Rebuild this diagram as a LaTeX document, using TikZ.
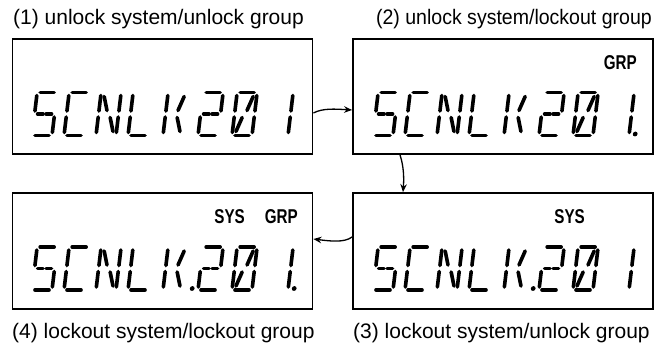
\documentclass[tikz,border=0pt]{standalone}
\usepackage{fontspec}
\setmainfont{Liberation Sans}
\usetikzlibrary{arrows.meta}

\tikzset{
  lcd/.style={draw, line width=1.8pt, minimum width=300pt, minimum height=115pt, inner sep=0pt},
  seg/.style={line width=3.6pt, line cap=round},
  lab/.style={inner sep=0pt, font=\fontsize{21}{24}\selectfont},
  ind/.style={inner sep=0pt, anchor=east, font=\fontsize{20}{22}\selectfont\bfseries},
  flow/.style={line width=1.3pt, -{Stealth[length=8pt,width=6.5pt]}}
}

% 14-segment pieces (local cell: width 20, height 43)
\newcommand\sgA{\draw[seg] (3,43)--(17,43);}
\newcommand\sgB{\draw[seg] (20,24.5)--(20,40);}
\newcommand\sgC{\draw[seg] (20,3)--(20,18.5);}
\newcommand\sgD{\draw[seg] (3,0)--(17,0);}
\newcommand\sgE{\draw[seg] (0,3)--(0,18.5);}
\newcommand\sgF{\draw[seg] (0,24.5)--(0,40);}
\newcommand\sgGa{\draw[seg] (3,21.5)--(8.5,21.5);}
\newcommand\sgGb{\draw[seg] (11.5,21.5)--(17,21.5);}
\newcommand\sgH{\draw[seg] (3.5,39)--(8,25);}
\newcommand\sgJ{\draw[seg] (16.5,39)--(12,25);}
\newcommand\sgK{\draw[seg] (8,18)--(3.5,4);}
\newcommand\sgM{\draw[seg] (12,18)--(16.5,4);}
\newcommand\sgDP[1]{\fill (#1,1.5) circle[radius=2.4];}

\newcommand\glyphS{\sgA\sgF\sgGa\sgGb\sgC\sgD}
\newcommand\glyphC{\sgA\sgF\sgE\sgD}
\newcommand\glyphN{\sgF\sgE\sgH\sgM\sgB\sgC}
\newcommand\glyphL{\sgF\sgE\sgD}
\newcommand\glyphK{\sgF\sgE\sgJ\sgM}
\newcommand\glyphTwo{\sgA\sgB\sgGa\sgGb\sgE\sgD}
\newcommand\glyphZero{\sgA\sgB\sgC\sgD\sgE\sgF\sgJ\sgK}
\newcommand\glyphOne{\sgB\sgC}

\newcommand\lcdchar[3]{\begin{scope}[shift={(#1,#2)},xslant=0.12]#3\end{scope}}
% #1 box left, #2 baseline y, #3 dot after K, #4 dot after 1
\newcommand\lcdline[4]{%
  \lcdchar{#1+20}{#2}{\glyphS}%
  \lcdchar{#1+52}{#2}{\glyphC}%
  \lcdchar{#1+84}{#2}{\glyphN}%
  \lcdchar{#1+116}{#2}{\glyphL}%
  \lcdchar{#1+151}{#2}{\glyphK#3}%
  \lcdchar{#1+186}{#2}{\glyphTwo}%
  \lcdchar{#1+220}{#2}{\glyphZero}%
  \lcdchar{#1+256}{#2}{\glyphOne#4}%
}

\begin{document}
\begin{tikzpicture}[x=1pt,y=1pt]
\useasboundingbox (0,0) rectangle (667,-343);

% titles
\node[lab, anchor=base west] (t1) at (13,-24) {(1) unlock system/unlock group};
\node[lab, anchor=base east] (t2) at (652,-24) {\scalebox{0.93}[1]{(2) unlock system/lockout group}};
\node[lab, anchor=base west] (t3) at (353,-338) {(3) lockout system/unlock group};
\node[lab, anchor=base west] (t4) at (12,-338) {(4) lockout system/lockout group};

% display boxes
\node[lcd] (b1) at (162.5,-96.5) {};
\node[lcd] (b2) at (503,-96.5) {};
\node[lcd, minimum height=116pt] (b3) at (503,-251) {};
\node[lcd, minimum height=116pt] (b4) at (162.5,-251) {};

% indicators
\node[ind] (g2) at (637,-62.5) {\scalebox{0.76}[1]{GRP}};
\node[ind] (s3) at (585,-217) {\scalebox{0.76}[1]{SYS}};
\node[ind] (s4) at (245,-217) {\scalebox{0.76}[1]{SYS}};
\node[ind] (g4) at (298,-217) {\scalebox{0.76}[1]{GRP}};

% segment readouts
\lcdline{12}{-135.5}{}{}
\lcdline{353}{-135.5}{}{\sgDP{26}}
\lcdline{353}{-290}{\sgDP{29}}{}
\lcdline{12}{-290}{\sgDP{29}}{\sgDP{26}}

% transitions
\draw[flow] ([yshift=-16.5pt]b1.east) .. controls +(9.5,5) and +(-17,1) .. ([yshift=-13.5pt]b2.west);
\draw[flow] ([xshift=-103pt]b2.south) .. controls +(4,-12) and +(1,13) .. ([xshift=-100pt]b3.north);
\draw[flow] ([yshift=14pt]b3.west) .. controls +(-8,-6) and +(16,-2) .. ([yshift=12pt]b4.east);
\end{tikzpicture}
\end{document}
